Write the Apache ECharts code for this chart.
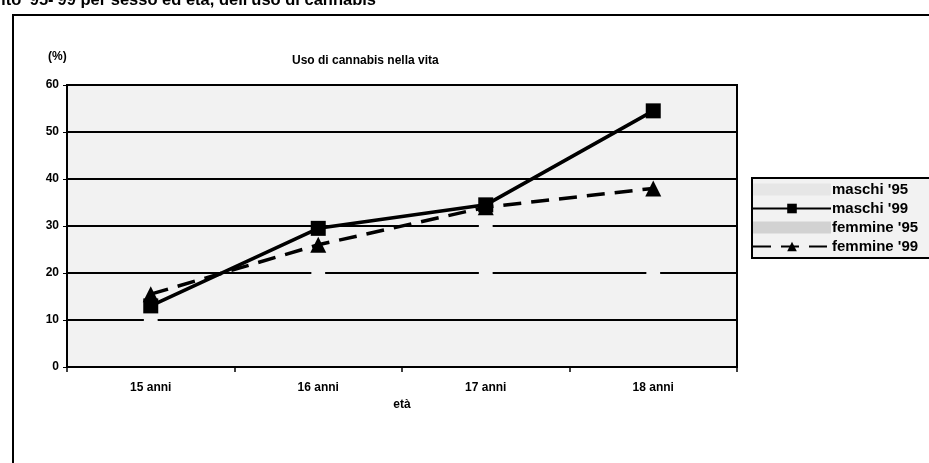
<!DOCTYPE html>
<html>
<head>
<meta charset="utf-8">
<title>Uso di cannabis nella vita</title>
<script src="https://cdn.jsdelivr.net/npm/echarts@6/dist/echarts.min.js"></script>
<style>
  html, body { margin: 0; padding: 0; background: #fff; }
  #chart { width: 929px; height: 463px; }
</style>
</head>
<body>
<div id="chart"></div>
<script>
// categorie (età)
const categories = ["15 anni", "16 anni", "17 anni", "18 anni"];

// valori in %
const maschi95 = [10, 20, 30, 45];
const maschi99 = [13, 29.5, 34.5, 54.5];
const femmine95 = [7, 15, 20, 20];
const femmine99 = [15.5, 26, 34, 38];

const yTicks = [0, 10, 20, 30, 40, 50, 60];

const font = "'Liberation Sans', Arial, sans-serif";
const plotBg = "#f2f2f2"; // fondo puntinato dell'originale, reso come grigio chiaro

const chart = echarts.init(document.getElementById("chart"));

const option = {
  backgroundColor: "#fff",
  animation: false,
  title: {
    text: "Uso di cannabis nella vita",
    left: 287,
    top: 50,
    textStyle: { fontFamily: font, fontSize: 12, fontWeight: "bold", color: "#000" },
  },
  graphic: [
    // cornice esterna
    {
      type: "rect",
      shape: { x: 13, y: 15, width: 1000, height: 500 },
      style: { fill: null, stroke: "#000", lineWidth: 2 },
    },
    // titolo della tavola (tagliato in alto)
    {
      type: "text",
      x: 376,
      y: 0,
      style: {
        text: "Confronto '95-'99 per sesso ed età, dell'uso di cannabis",
        fontFamily: font,
        fontSize: 16.5,
        fontWeight: "bold",
        fill: "#000",
        align: "right",
        verticalAlign: "middle",
      },
    },
    {
      type: "text",
      x: 48,
      y: 51,
      style: { text: "(%)", fontFamily: font, fontSize: 12, fontWeight: "bold", fill: "#000" },
    },
  ],
  legend: {
    orient: "vertical",
    left: 752,
    top: 178,
    padding: [4, 20, 4, 0],
    itemWidth: 78,
    itemHeight: 12,
    itemGap: 4,
    backgroundColor: plotBg,
    borderColor: "#000",
    borderWidth: 2,
    borderRadius: 0,
    textStyle: { fontFamily: font, fontSize: 15, fontWeight: "bold", color: "#000", padding: [0, 0, 0, -4] },
    data: [
      { name: "maschi '95", icon: "rect", itemStyle: { color: "#e6e6e6" } },
      { name: "maschi '99" },
      { name: "femmine '95", icon: "rect", itemStyle: { color: "#d2d2d2" } },
      { name: "femmine '99" },
    ],
  },
  grid: {
    left: 67,
    right: 192,
    top: 85,
    bottom: 96,
    show: true,
    backgroundColor: plotBg,
    borderColor: "#000",
    borderWidth: 2,
  },
  xAxis: {
    type: "category",
    data: categories,
    boundaryGap: true,
    name: "età",
    nameLocation: "middle",
    nameGap: 31,
    nameTextStyle: { fontFamily: font, fontSize: 12, fontWeight: "bold", color: "#000" },
    axisLine: { lineStyle: { color: "#000", width: 2 } },
    axisTick: { show: true, length: 5, lineStyle: { color: "#000", width: 1.5 } },
    axisLabel: { fontFamily: font, fontSize: 12, fontWeight: "bold", color: "#000", margin: 15 },
  },
  yAxis: {
    type: "value",
    min: yTicks[0],
    max: yTicks[yTicks.length - 1],
    interval: 10,
    axisLine: { show: true, lineStyle: { color: "#000", width: 2 } },
    axisTick: { show: true, length: 4, lineStyle: { color: "#000" } },
    axisLabel: { fontFamily: font, fontSize: 12, fontWeight: "bold", color: "#000", margin: 8 },
    splitLine: { lineStyle: { color: "#000", width: 2 } },
  },
  series: [
    {
      // serie '95 nello stesso colore del fondo: si vedono solo dove coprono la griglia
      name: "maschi '95",
      type: "line",
      data: maschi95,
      symbol: "circle",
      symbolSize: 14,
      itemStyle: { color: plotBg },
      lineStyle: { opacity: 0 },
      z: 1,
    },
    {
      name: "maschi '99",
      type: "line",
      data: maschi99,
      symbol: "rect",
      symbolSize: 15,
      itemStyle: { color: "#000" },
      lineStyle: { color: "#000", width: 3.5 },
      z: 3,
    },
    {
      name: "femmine '95",
      type: "line",
      data: femmine95,
      symbol: "circle",
      symbolSize: 14,
      itemStyle: { color: plotBg },
      lineStyle: { opacity: 0 },
      z: 1,
    },
    {
      name: "femmine '99",
      type: "line",
      data: femmine99,
      symbol: "triangle",
      symbolSize: 16,
      itemStyle: { color: "#000" },
      lineStyle: { color: "#000", width: 3.5, type: [18, 10] },
      z: 3,
    },
  ],
};

chart.setOption(option);
window.addEventListener("resize", () => {
  chart.resize();
});
</script>
</body>
</html>
